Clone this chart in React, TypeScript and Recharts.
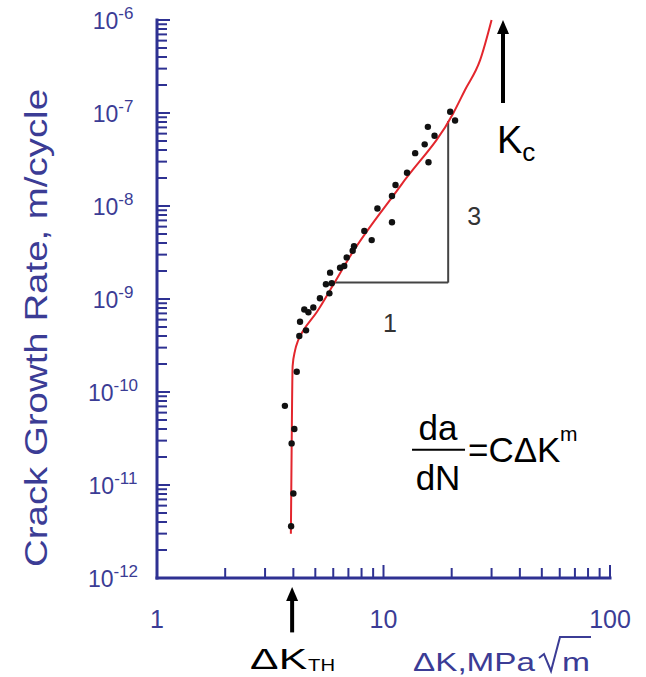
import React from 'react'
import { ComposedChart, Scatter, Line, XAxis, YAxis, ReferenceLine, ReferenceDot } from 'recharts'

// measured points (stress intensity range vs growth rate)
const pointK = [
  3.91, 4.0, 3.93, 4.04, 3.67, 4.14,
  4.25, 4.55, 4.28, 4.66, 4.47, 4.9, 5.24, 5.77, 5.57, 5.91, 5.81,
  6.43, 6.71, 6.88, 7.31, 7.41, 8.87, 8.23, 10.9, 9.4, 10.9, 11.3, 12.7, 15.8, 13.8, 15.2, 16.8, 15.7, 20.7, 19.7,
]
const pointRate = [
  3.6e-12, 8.1e-12, 2.8e-11, 4.0e-11, 7.1e-11, 1.65e-10,
  4.0e-10, 4.6e-10, 5.7e-10, 7.2e-10, 7.7e-10, 8.1e-10, 1.02e-9, 1.15e-9, 1.44e-9, 1.48e-9, 1.92e-9,
  2.17e-9, 2.26e-9, 2.8e-9, 3.3e-9, 3.7e-9, 4.3e-9, 5.4e-9, 6.7e-9, 9.4e-9, 1.28e-8, 1.68e-8, 2.28e-8, 2.95e-8, 3.7e-8, 4.6e-8, 5.7e-8, 7.1e-8, 8.3e-8, 1.03e-7,
]

// fitted sigmoidal curve
const fitK = [3.9, 3.93, 3.97, 4.07, 4.2, 4.43, 5.07, 6.0, 7.1, 12, 20.3, 22.9, 26.7, 30]
const fitRate = [3.0e-12, 2.4e-11, 1.9e-10, 2.8e-10, 3.6e-10, 4.6e-10, 7.2e-10, 1.42e-9, 2.85e-9, 1.7e-8, 9.9e-8, 1.77e-7, 3.7e-7, 1.0e-6]

// slope triangle and annotation anchors
const triangleK = [5.9, 19.3]
const triangleRate = [1.5e-9, 8.2e-8]
const kcArrow = { k: 33.7, from: 1.28e-7, to: 1.0e-6 }
const kthArrow = { k: 3.95, from: 2.6e-13, to: 8.0e-13 }
const formulaAnchor = { k: 13.5, rate: 2.4e-11 }

// axes
const xDecades = [1, 10, 100]
const yExponents = [-12, -11, -10, -9, -8, -7, -6]
const steps = [1, 2, 3, 4, 5, 6, 7, 8, 9]

const xTicks = [...xDecades.slice(0, -1).flatMap((d) => steps.map((s) => s * d)), 100]
const yTicks = [...yExponents.slice(0, -1).flatMap((e) => steps.map((s) => s * Math.pow(10, e))), 1e-6]

const points = pointK.map((k, i) => ({ k, rate: pointRate[i] }))
const fit = fitK.map((k, i) => ({ k, rate: fitRate[i] }))

const AXIS = '#2e3192'
const TEXT = '#3b3c95'
const FIT = '#e3262d'
const FONT = '"Liberation Sans", Arial, sans-serif'

const isDecade = (v: number) => Math.abs(Math.log10(v) - Math.round(Math.log10(v))) < 1e-6

const XTick = ({ x, y, payload }: any) => {
  const major = isDecade(payload.value)
  return (
    <g>
      <line x1={x} y1={y} x2={x} y2={y - (major ? 13 : 10)} stroke={AXIS} strokeWidth={2} />
      {major && (
        <text x={x} y={y + 50} textAnchor="middle" fontSize={25} fontFamily={FONT} fill={TEXT}>
          {String(Math.round(payload.value))}
        </text>
      )}
    </g>
  )
}

const YTick = ({ x, y, payload }: any) => {
  const major = isDecade(payload.value)
  const exp = Math.round(Math.log10(payload.value))
  return (
    <g>
      <line x1={x} y1={y} x2={x + (major ? 13 : 10)} y2={y} stroke={AXIS} strokeWidth={2} />
      {major && (
        <text x={x - 44} y={y + 9} textAnchor="middle" fontSize={23} fontFamily={FONT} fill={TEXT}>
          10
          <tspan fontSize={17} dy={-10}>{String(exp)}</tspan>
        </text>
      )}
    </g>
  )
}

const XTitle = ({ viewBox }: any) => {
  const ox = viewBox.x
  const oy = viewBox.y
  return (
    <g fill={TEXT} fontFamily={FONT}>
      <text x={ox + 256} y={oy + 93} fontSize={26} textLength={122} lengthAdjust="spacingAndGlyphs">
        ΔK,MPa
      </text>
      <path
        d={`M${ox + 382},${oy + 80} L${ox + 387},${oy + 76} L${ox + 394},${oy + 93} L${ox + 403},${oy + 59} L${ox + 434},${oy + 59}`}
        stroke={TEXT}
        strokeWidth={2}
        fill="none"
      />
      <text x={ox + 405} y={oy + 93} fontSize={26} textLength={28} lengthAdjust="spacingAndGlyphs">
        m
      </text>
    </g>
  )
}

const YTitle = ({ viewBox }: any) => {
  const cx = 47
  const cy = viewBox.y + viewBox.height / 2 + 29
  return (
    <text
      x={cx}
      y={cy}
      transform={`rotate(-90, ${cx}, ${cy})`}
      textAnchor="middle"
      fontSize={31}
      fontFamily={FONT}
      fill={TEXT}
      textLength={478}
      lengthAdjust="spacingAndGlyphs"
    >
      Crack Growth Rate, m/cycle
    </text>
  )
}

const Arrow = (props: any, label: (x: number, tail: number) => React.ReactNode) => {
  const { x1, y1, y2 } = props
  const tip = Math.min(y1, y2)
  const tail = Math.max(y1, y2)
  return (
    <g>
      <line x1={x1} y1={tail} x2={x1} y2={tip + 12} stroke="#000" strokeWidth={4} />
      <polygon points={`${x1 - 6},${tip + 14} ${x1 + 6},${tip + 14} ${x1},${tip}`} fill="#000" />
      {label(x1, tail)}
    </g>
  )
}

const kcLabel = (x: number, tail: number) => (
  <text x={x - 6} y={tail + 50} fontSize={38} fontFamily={FONT} fill="#000">
    K<tspan fontSize={26} dy={8}>c</tspan>
  </text>
)

const kthLabel = (x: number, tail: number) => (
  <g fontFamily={FONT} fill="#000">
    <text x={x - 42} y={tail + 37} fontSize={30} textLength={57} lengthAdjust="spacingAndGlyphs">
      ΔK
    </text>
    <text x={x + 16} y={tail + 39} fontSize={17} textLength={27} lengthAdjust="spacingAndGlyphs">
      TH
    </text>
  </g>
)

const Formula = ({ cx, cy }: any) => (
  <g fontFamily={FONT} fill="#000">
    <text x={cx + 25} y={cy - 10} textAnchor="middle" fontSize={35}>da</text>
    <line x1={cx - 1} y1={cy} x2={cx + 52} y2={cy} stroke="#000" strokeWidth={2} />
    <text x={cx + 25} y={cy + 40} textAnchor="middle" fontSize={35}>dN</text>
    <text x={cx + 55} y={cy + 12} fontSize={35}>=CΔK</text>
    <text x={cx + 147} y={cy - 9} fontSize={21}>m</text>
  </g>
)

const sideLabel = (text: string, dx: number, dy: number, vertical: boolean) => ({ viewBox }: any) => {
  const x = vertical ? viewBox.x + dx : viewBox.x + viewBox.width / 2 + dx
  const y = vertical ? viewBox.y + viewBox.height / 2 + dy : viewBox.y + dy
  return (
    <text x={x} y={y} textAnchor="middle" fontSize={25} fontFamily={FONT} fill="#333">
      {text}
    </text>
  )
}

export default function App() {
  return (
    <div style={{ position: 'absolute', left: 0, top: 0, background: '#fff' }}>
      <ComposedChart width={646} height={677} margin={{ top: 20, right: 36, bottom: 0, left: 0 }}>
        <XAxis
          dataKey="k"
          type="number"
          scale="log"
          domain={[1, 100]}
          ticks={xTicks}
          interval={0}
          height={99}
          tickSize={0}
          tickMargin={0}
          tickLine={false}
          axisLine={{ stroke: AXIS, strokeWidth: 3, strokeLinecap: 'square' }}
          tick={(p: any) => <XTick {...p} />}
          label={{ content: (p: any) => <XTitle {...p} /> }}
        />
        <YAxis
          dataKey="rate"
          type="number"
          scale="log"
          domain={[1e-12, 1e-6]}
          ticks={yTicks}
          interval={0}
          width={157}
          tickSize={0}
          tickMargin={0}
          tickLine={false}
          axisLine={{ stroke: AXIS, strokeWidth: 3, strokeLinecap: 'square' }}
          tick={(p: any) => <YTick {...p} />}
          label={{ content: (p: any) => <YTitle {...p} /> }}
        />
        <ReferenceLine
          segment={[{ x: triangleK[0], y: triangleRate[0] }, { x: triangleK[1], y: triangleRate[0] }]}
          stroke="#444"
          strokeWidth={2}
          ifOverflow="visible"
          label={{ content: sideLabel('1', 0, 49, false) }}
        />
        <ReferenceLine
          segment={[{ x: triangleK[1], y: triangleRate[0] }, { x: triangleK[1], y: triangleRate[1] }]}
          stroke="#444"
          strokeWidth={2}
          ifOverflow="visible"
          label={{ content: sideLabel('3', 26, 23, true) }}
        />
        <Line
          data={fit}
          dataKey="rate"
          type="monotone"
          stroke={FIT}
          strokeWidth={2}
          dot={false}
          isAnimationActive={false}
        />
        <Scatter
          data={points}
          dataKey="rate"
          isAnimationActive={false}
          shape={(p: any) => <circle cx={p.cx} cy={p.cy} r={3.2} fill="#111" />}
        />
        <ReferenceLine
          segment={[{ x: kcArrow.k, y: kcArrow.from }, { x: kcArrow.k, y: kcArrow.to }]}
          ifOverflow="visible"
          shape={(p: any) => Arrow(p, kcLabel)}
        />
        <ReferenceLine
          segment={[{ x: kthArrow.k, y: kthArrow.from }, { x: kthArrow.k, y: kthArrow.to }]}
          ifOverflow="visible"
          shape={(p: any) => Arrow(p, kthLabel)}
        />
        <ReferenceDot
          x={formulaAnchor.k}
          y={formulaAnchor.rate}
          r={0}
          ifOverflow="visible"
          shape={(p: any) => <Formula {...p} />}
        />
      </ComposedChart>
    </div>
  )
}
